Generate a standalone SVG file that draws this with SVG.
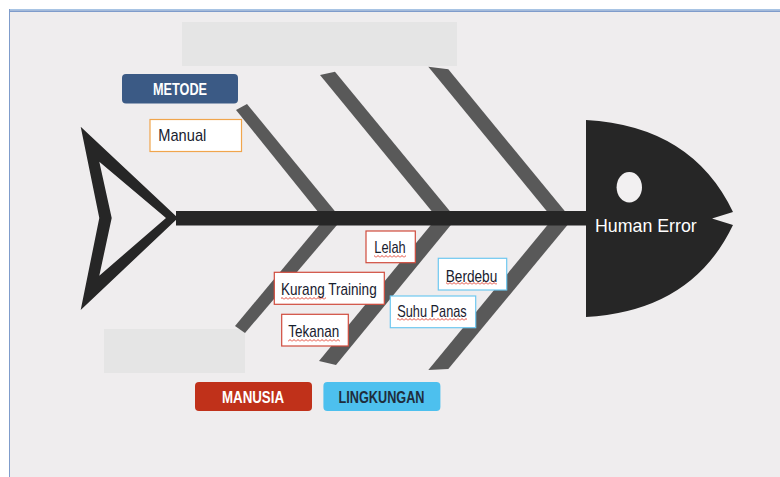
<svg xmlns="http://www.w3.org/2000/svg" width="780" height="477" viewBox="0 0 780 477">
  <defs>
    <style>
      .bone { fill: #595959; }
      .dark { fill: #262626; }
      .ph { fill: #e5e5e5; }
      .cause { fill: #ffffff; stroke-width: 1.2; }
      .red { stroke: #d04b3c; }
      .blue { stroke: #6ec8f0; }
      .ctext { font-family: "Liberation Sans", Arial, sans-serif; font-size: 17px; fill: #18202e; }
      .cat { font-family: "Liberation Sans", Arial, sans-serif; font-size: 16px; font-weight: bold; text-anchor: middle; }
      .wave { fill: url(#wave); }
    </style>
    <pattern id="wave" patternUnits="userSpaceOnUse" width="4" height="3">
      <path d="M0,2.5 L2,0.5 L4,2.5" fill="none" stroke="#e0301e" stroke-width="0.9"/>
    </pattern>
  </defs>

  <!-- page -->
  <rect x="0" y="0" width="780" height="477" fill="#ffffff"/>
  <rect x="9" y="10" width="771" height="467" fill="#efedee"/>
  <rect x="9" y="9" width="771" height="1.5" fill="#a8c4e4"/>
  <rect x="9" y="10.5" width="771" height="1.5" fill="#7f9ccb"/>
  <rect x="9" y="9" width="1" height="468" fill="#7f9ccb"/>

  <!-- placeholders -->
  <rect class="ph" x="182" y="22" width="275" height="44"/>
  <rect class="ph" x="104" y="329" width="141" height="44"/>

  <!-- bones -->
  <g id="connectors">
    <polygon class="bone" points="236,110 247,104 340.5,218 323,218"/>
    <polygon class="bone" points="320,75 335,71.7 455.5,218 437.3,218"/>
    <polygon class="bone" points="428.3,66.7 448.3,69.3 570.5,218 552.4,218"/>
    <polygon class="bone" points="325,218 343,218 245,333 235,326"/>
    <polygon class="bone" points="436.6,218 456.6,218 336,365 319,361"/>
    <polygon class="bone" points="553.3,218 573.3,218 448.3,369 428.3,370"/>
    <rect id="spine" class="dark" x="176" y="211" width="419" height="14.5"/>
  </g>

  <!-- tail -->
  <g id="tail">
    <path class="dark" fill-rule="evenodd" d="M80.7,126.7 L178,218 L80.7,310 L99.3,218 Z M99.3,161.7 L111.7,218 L99.3,275.7 L166,218 Z"/>
  </g>

  <!-- head -->
  <g id="head">
    <path class="dark" d="M586,120 Q692,126 733,212 L712,218.5 L733,225 Q692,311 586,317 Z"/>
    <ellipse cx="629.3" cy="187.3" rx="12.7" ry="15.3" fill="#f2f0f1"/>
    <text x="595" y="231.7" font-family="Liberation Sans, Arial, sans-serif" font-size="19" fill="#ffffff" textLength="101.7" lengthAdjust="spacingAndGlyphs">Human Error</text>
  </g>

  <!-- categories -->
  <g id="metode">
    <rect x="122" y="74" width="116" height="29.5" rx="4" fill="#3b5a85"/>
    <text class="cat" x="180" y="95" fill="#ffffff" textLength="54" lengthAdjust="spacingAndGlyphs">METODE</text>
  </g>
  <g id="manusia">
    <rect x="195" y="382" width="117" height="29" rx="4" fill="#c0311a"/>
    <text class="cat" x="253" y="402.7" fill="#ffffff" textLength="62" lengthAdjust="spacingAndGlyphs">MANUSIA</text>
  </g>
  <g id="lingkungan">
    <rect x="323.4" y="382" width="117" height="29" rx="4" fill="#4dc0ee"/>
    <text class="cat" x="381.5" y="402.7" fill="#1f2d3d" textLength="86" lengthAdjust="spacingAndGlyphs">LINGKUNGAN</text>
  </g>

  <!-- causes -->
  <g id="manual">
    <rect class="cause" x="150" y="119.5" width="91.5" height="32" stroke="#f0a54c"/>
    <text class="ctext" x="158.3" y="140.7" textLength="48" lengthAdjust="spacingAndGlyphs">Manual</text>
  </g>
  <g id="lelah">
    <rect class="cause red" x="366" y="231" width="49.3" height="31.7"/>
    <text class="ctext" x="374.3" y="253.3" textLength="31.4" lengthAdjust="spacingAndGlyphs">Lelah</text>
    <rect class="wave" x="374" y="255" width="32" height="3"/>
  </g>
  <g id="kurang-training">
    <rect class="cause red" x="274.3" y="272.3" width="110" height="32"/>
    <text class="ctext" x="281" y="295" textLength="95.7" lengthAdjust="spacingAndGlyphs">Kurang Training</text>
    <rect class="wave" x="281" y="297" width="45" height="3"/>
  </g>
  <g id="tekanan">
    <rect class="cause red" x="281.7" y="314.3" width="66.6" height="31.7"/>
    <text class="ctext" x="288.3" y="336.7" textLength="51" lengthAdjust="spacingAndGlyphs">Tekanan</text>
    <rect class="wave" x="288" y="339" width="52" height="3"/>
  </g>
  <g id="berdebu">
    <rect class="cause blue" x="438.3" y="258.3" width="68.4" height="31.7"/>
    <text class="ctext" x="445.7" y="281.7" textLength="51.6" lengthAdjust="spacingAndGlyphs">Berdebu</text>
    <rect class="wave" x="446" y="282" width="51" height="3"/>
  </g>
  <g id="suhu-panas">
    <rect class="cause blue" x="390.3" y="296" width="85.4" height="31.7"/>
    <text class="ctext" x="397.3" y="316.7" textLength="69.4" lengthAdjust="spacingAndGlyphs">Suhu Panas</text>
    <rect class="wave" x="397" y="318" width="70" height="3"/>
  </g>
</svg>
